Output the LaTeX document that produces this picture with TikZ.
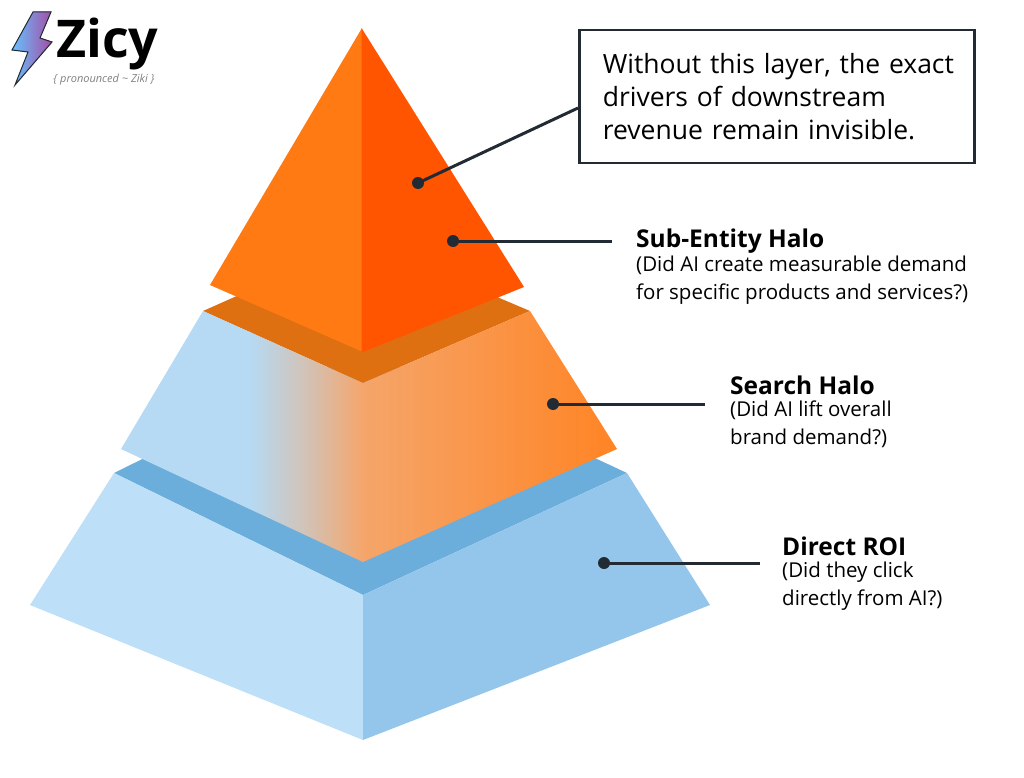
\documentclass[tikz,border=0pt]{standalone}
\usepackage{fontspec}
\setmainfont{Open Sans}
\usetikzlibrary{positioning}
\definecolor{topL}{HTML}{FF7A12}
\definecolor{topR}{HTML}{FF5400}
\definecolor{midTop}{HTML}{DE7012}
\definecolor{midBlue}{HTML}{B6DAF4}
\definecolor{midOrL}{HTML}{F5A56A}
\definecolor{midOrR}{HTML}{FF8424}
\definecolor{botTop}{HTML}{6BAEDB}
\definecolor{botL}{HTML}{BDDFF7}
\definecolor{botR}{HTML}{94C6EC}
\definecolor{ink}{HTML}{222B33}
\tikzset{
  dot/.style={circle,fill=ink,inner sep=0pt,minimum size=12pt},
  lead/.style={ink,line width=3pt},
  title/.style={anchor=west,inner sep=0pt,font=\fontsize{24.5}{28}\selectfont\bfseries},
  sub/.style={anchor=north west,inner sep=0pt,align=left,font=\fontsize{20.5}{28}\selectfont},
}
\begin{document}
\begin{tikzpicture}[x=1pt,y=-1pt]
\useasboundingbox (0,0) rectangle (1024,778);
% bottom layer
\fill[botTop] (114,473) -- (363,350) -- (627,473) -- (363,595) -- cycle;
\fill[botL] (114,473) -- (363,595) -- (363,740) -- (30,605) -- cycle;
\fill[botR] (363,595) -- (627,473) -- (710,605) -- (363,740) -- cycle;
% middle layer
\fill[midTop] (203,311) -- (363,240) -- (530,311) -- (363,383) -- cycle;
\begin{scope}
  \clip (203,311) -- (363,383) -- (363,562) -- (121,449) -- cycle;
  \fill[midBlue] (110,300) rectangle (250,570);
  \shade[left color=midBlue,right color=midOrL,middle color=midOrL!45!midBlue] (249,300) rectangle (364,570);
\end{scope}
\shade[left color=midOrL,right color=midOrR]
  (363,383) -- (530,311) -- (617,449) -- (363,562) -- cycle;
% top pyramid
\fill[topL] (362,28) -- (363,352) -- (210,285) -- cycle;
\fill[topR] (361.5,28) -- (524,287) -- (363,352) -- (361.5,352) -- cycle;
% logo
\fill[left color=cyan!60!blue!60,right color=violet!70] (33,12) -- (51,12) -- (40,38) -- (52,42) -- (15,85) -- (28,52) -- (12,50) -- cycle;
\draw[ink,line width=1pt] (33,12) -- (51,12) -- (40,38) -- (52,42) -- (15,85) -- (28,52) -- (12,50) -- cycle;
\node[anchor=west,inner sep=0pt,font=\fontsize{52}{56}\selectfont\bfseries] (logo) at (56,44) {Zicy};
\node[inner sep=0pt,text=gray,font=\fontsize{11}{12}\selectfont\itshape] (pron) at (104,80) {\{ pronounced \textasciitilde{} Ziki \}};
% callout box
\node[draw=ink,line width=2.5pt,anchor=north west,minimum width=395pt,minimum height=133pt,
  text width=380pt,inner sep=0pt,align=left,font=\fontsize{26.5}{33}\selectfont] (box) at (578,29)
  {\hspace*{16pt}Without this layer, the exact\\\hspace*{16pt}drivers of downstream\\\hspace*{16pt}revenue remain invisible.};
\node[dot] (d0) at (418,183) {};
\coordinate (b0) at (578,108);
\draw[lead] (d0.center) -- (b0);
% labels
\node[dot] (d1) at (453,241) {};
\coordinate (e1) at (612,241);
\draw[lead] (d1.center) -- (e1);
\node[title] (t1) at (636,241) {Sub-Entity Halo};
\node[sub] (s1) at (636,256) {(Did AI create measurable demand\\for specific products and services?)};
\node[dot] (d2) at (553,404) {};
\coordinate (e2) at (705,404);
\draw[lead] (d2.center) -- (e2);
\node[title] (t2) at (730,385) {Search Halo};
\node[sub] (s2) at (730,401) {(Did AI lift overall\\brand demand?)};
\node[dot] (d3) at (604,563) {};
\coordinate (e3) at (760,563);
\draw[lead] (d3.center) -- (e3);
\node[title] (t3) at (782,546) {Direct ROI};
\node[sub] (s3) at (782,562) {(Did they click\\directly from AI?)};
\end{tikzpicture}
\end{document}
